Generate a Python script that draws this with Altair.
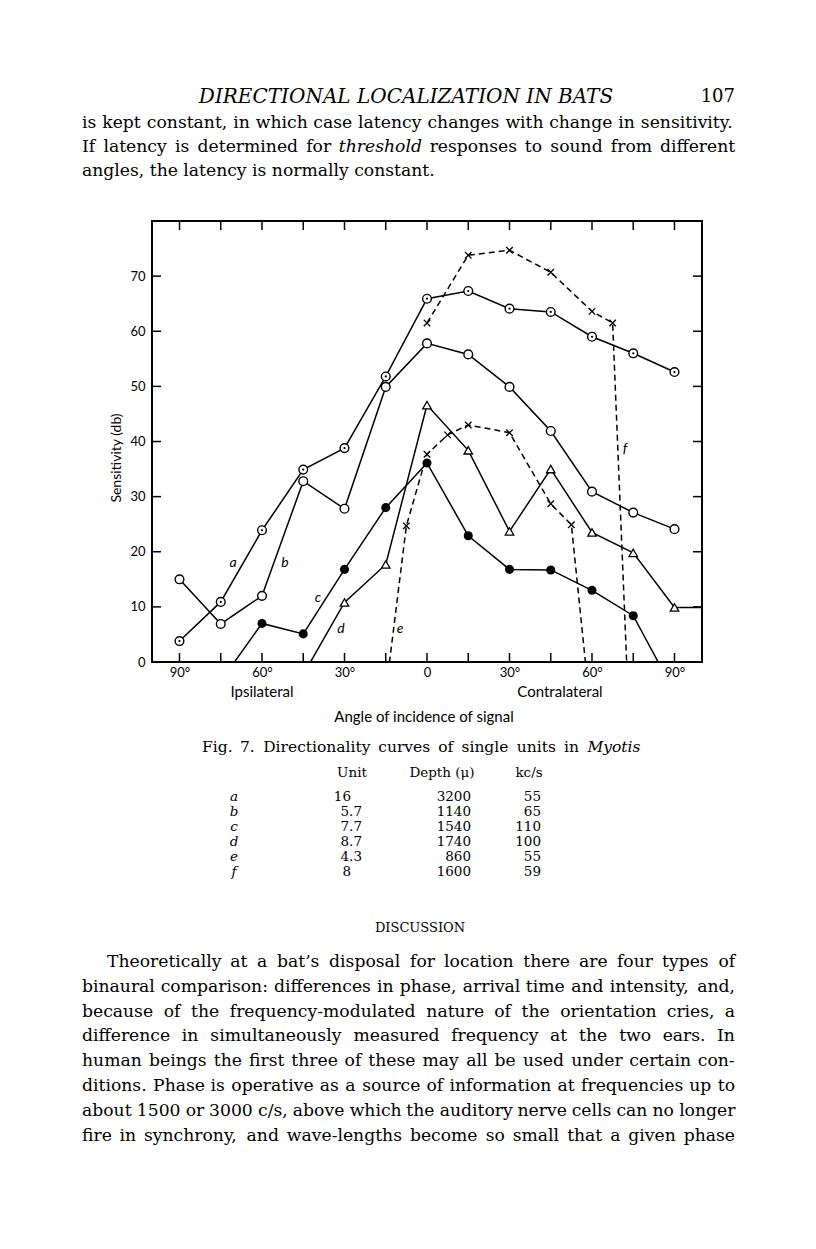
import altair as alt
import pandas as pd

# ---------------- data ----------------
ang_a = [-90, -75, -60, -45, -30, -15, 0, 15, 30, 45, 60, 75, 90]
db_a = [3.8, 10.9, 23.9, 34.9, 38.8, 51.8, 65.9, 67.3, 64.1, 63.5, 59.0, 56.0, 52.6]
ang_b = [-90, -75, -60, -45, -30, -15, 0, 15, 30, 45, 60, 75, 90]
db_b = [15.0, 6.9, 12.0, 32.8, 27.8, 49.9, 57.8, 55.8, 49.9, 41.9, 30.9, 27.1, 24.1]
ang_c = [-75, -60, -45, -30, -15, 0, 15, 30, 45, 60, 75, 90]
db_c = [-3.5, 7.0, 5.1, 16.8, 28.0, 36.1, 22.9, 16.8, 16.7, 13.0, 8.4, -5.5]
ang_d = [-45, -30, -15, 0, 15, 30, 45, 60, 75, 90, 100]
db_d = [-2.3, 10.8, 17.7, 46.6, 38.4, 23.7, 35.0, 23.5, 19.8, 9.9, 9.9]
ang_e = [-15, -7.5, 0, 7.5, 15, 30, 45, 52.5, 60]
db_e = [-5.5, 24.7, 37.7, 41.2, 43.0, 41.6, 28.7, 24.9, -11.7]
ang_f = [0, 15, 30, 45, 60, 67.5, 75]
db_f = [61.5, 73.8, 74.7, 70.7, 63.6, 61.5, -29.0]

units = ["a", "b", "c", "d", "e", "f"]
x_tick_values = [-90, -75, -60, -45, -30, -15, 0, 15, 30, 45, 60, 75, 90]
x_label_values = [-90, -60, -30, 0, 30, 60, 90]
y_tick_values = [10, 20, 30, 40, 50, 60, 70]
y_label_values = [0, 10, 20, 30, 40, 50, 60, 70]

tbl_unit = ["16", "5.7", "7.7", "8.7", "4.3", "8"]
tbl_depth = ["3200", "1140", "1540", "1740", "860", "1600"]
tbl_kcs = ["55", "65", "110", "100", "55", "59"]

header_title = "DIRECTIONAL LOCALIZATION IN BATS"
page_number = "107"
top_line_1 = "is kept constant, in which case latency changes with change in sensitivity."
top_line_2 = "If latency is determined for _threshold_ responses to sound from different"
top_line_3 = "angles, the latency is normally constant."
caption_line = "Fig. 7.  Directionality curves of single units in _Myotis_"
table_header = ["Unit", "Depth (\u03bc)", "kc/s"]
section_title = "DISCUSSION"
para_lines = [
    "Theoretically at a bat\u2019s disposal for location there are four types of",
    "binaural comparison: differences in phase, arrival time and intensity, and,",
    "because of the frequency-modulated nature of the orientation cries, a",
    "difference in simultaneously measured frequency at the two ears.  In",
    "human beings the first three of these may all be used under certain con-",
    "ditions.  Phase is operative as a source of information at frequencies up to",
    "about 1500 or 3000 c/s, above which the auditory nerve cells can no longer",
    "fire in synchrony, and wave-lengths become so small that a given phase",
]

# ---------------- layout ----------------
L, T, W, H = 152, 221, 550, 441  # plot area on the page


def ax(px):
    return (px - L) / W * 200 - 100


def ay(py):
    return (T + H - py) / H * 80


xs = alt.Scale(domain=[-100, 100], nice=False, zero=False)
ys = alt.Scale(domain=[0, 80], nice=False, zero=False)
xaxis = alt.Axis(values=x_label_values, labelExpr="datum.value == 0 ? '0' : abs(datum.value) + '\u00b0'",
                 ticks=False, domain=False, grid=False, title=None, labelFont="Lato",
                 labelFontSize=13, labelColor="black", labelPadding=4)
yaxis = alt.Axis(values=y_label_values, ticks=False, domain=False, grid=False, title=None,
                 labelFont="Lato", labelFontSize=13, labelColor="black", labelPadding=7)
X = alt.X("angle:Q", scale=xs, axis=xaxis)
Y = alt.Y("db:Q", scale=ys, axis=yaxis)

rows = []
for u, angs, vals in zip(units, [ang_a, ang_b, ang_c, ang_d, ang_e, ang_f],
                         [db_a, db_b, db_c, db_d, db_e, db_f]):
    for i, (a, v) in enumerate(zip(angs, vals)):
        rows.append({"unit": u, "angle": a, "db": v, "order": i})
df = pd.DataFrame(rows)
base = alt.Chart(df)

line_solid = base.transform_filter("indexof(['a','b','c','d'], datum.unit) >= 0").mark_line(
    clip=True, color="black", strokeWidth=1.5).encode(x=X, y=Y, detail="unit:N", order="order:Q")
line_dash = base.transform_filter("indexof(['e','f'], datum.unit) >= 0").mark_line(
    clip=True, color="black", strokeWidth=1.5, strokeDash=[6, 4]).encode(
    x=X, y=Y, detail="unit:N", order="order:Q")

pts = base.transform_filter("datum.angle <= 90")
open_circ = pts.transform_filter("datum.unit == 'a' || datum.unit == 'b'").mark_point(
    clip=True, shape="circle", filled=True, fill="white", stroke="black", strokeWidth=1.4,
    size=76, opacity=1).encode(x=X, y=Y)
dots = pts.transform_filter("datum.unit == 'a'").mark_point(
    clip=True, shape="circle", filled=True, color="black", size=5, opacity=1).encode(x=X, y=Y)
filled = pts.transform_filter("datum.unit == 'c'").mark_point(
    clip=True, shape="circle", filled=True, color="black", size=82, opacity=1).encode(x=X, y=Y)
tri = pts.transform_filter("datum.unit == 'd'").mark_point(
    clip=True, shape="triangle-up", filled=True, fill="white", stroke="black", strokeWidth=1.3,
    size=72, opacity=1).encode(x=X, y=Y)
cross = pts.transform_filter("datum.unit == 'e' || datum.unit == 'f'").mark_point(
    clip=True, shape="M-1,-1L1,1M-1,1L1,-1", filled=False, stroke="black", strokeWidth=1.3,
    size=42, opacity=1).encode(x=X, y=Y)

# inward ticks on all four sides
xt = alt.Chart(pd.DataFrame({"angle": x_tick_values}))
yt = alt.Chart(pd.DataFrame({"db": y_tick_values}))
tick_bottom = xt.mark_rule(color="black", strokeWidth=1.5).encode(x=X, y=alt.value(H), y2=alt.value(H - 9))
tick_top = xt.mark_rule(color="black", strokeWidth=1.5).encode(x=X, y=alt.value(0), y2=alt.value(9))
tick_left = yt.mark_rule(color="black", strokeWidth=1.5).encode(y=Y, x=alt.value(0), x2=alt.value(9))
tick_right = yt.mark_rule(color="black", strokeWidth=1.5).encode(y=Y, x=alt.value(W), x2=alt.value(W - 9))


def txt(items, **kw):
    d = pd.DataFrame({"label": [i[0] for i in items],
                      "angle": [ax(i[1]) for i in items],
                      "db": [ay(i[2]) for i in items]})
    opts = dict(baseline="middle", color="black")
    opts.update(kw)
    return alt.Chart(d).mark_text(**opts).encode(x=X, y=Y, text="label:N")


SANS = "Lato"
SERIF = "DejaVu Serif"

# approximate DejaVu Serif advance widths (units of 1/2048 em), for justification
CW = {" ": 651, "a": 1221, "b": 1314, "c": 1147, "d": 1314, "e": 1212, "f": 739, "g": 1314,
      "h": 1314, "i": 655, "j": 639, "k": 1245, "l": 655, "m": 1966, "n": 1314, "o": 1233,
      "p": 1314, "q": 1314, "r": 925, "s": 1044, "t": 823, "u": 1314, "v": 1167, "w": 1704,
      "x": 1167, "y": 1167, "z": 1073, ",": 651, ".": 651, ":": 690, "-": 739, "\u2019": 651,
      "/": 690, "I": 824, "T": 1290, "P": 1274, "F": 1290, "D": 1606, "M": 2026}


def word_width(w, size):
    return sum(CW.get(c, 1303) for c in w) / 2048 * size


def justify(line, y, x0, x1, size):
    words = line.split()
    widths = [word_width(w.strip("_"), size) for w in words]
    gap = (x1 - x0 - sum(widths)) / (len(words) - 1)
    gap = max(gap, 0.15 * size)
    out_r, out_i = [], []
    x = x0
    for w, wd in zip(words, widths):
        if w.startswith("_"):
            out_i.append((w.strip("_"), x, y))
        else:
            out_r.append((w, x, y))
        x += wd + gap
    return out_r, out_i


BODY = 17.2
reg, ital = [], []
for line, y, x0 in [(top_line_1, 123, 82), (top_line_2, 147, 82)]:
    r, i = justify(line, y, x0, 735, BODY)
    reg += r
    ital += i
for k, line in enumerate(para_lines):
    r, i = justify(line, 962 + 24.8 * k, 107 if k == 0 else 82, 735, BODY)
    reg += r
    ital += i

body_words = txt(reg, font=SERIF, fontSize=BODY, align="left")
body_ital = txt(ital, font=SERIF, fontSize=BODY, fontStyle="italic", align="left")
body_last = txt([(top_line_3, 82, 171)], font=SERIF, fontSize=BODY, align="left")

header = txt([(header_title, 406, 97)], font=SERIF, fontSize=20, fontStyle="italic", align="center")
pnum = txt([(page_number, 735, 97)], font=SERIF, fontSize=18, align="right")

# curve labels
curve_labels = txt([("a", 233, 563), ("b", 285, 563), ("c", 318, 598), ("d", 341, 629),
                    ("e", 400, 629), ("f", 625, 449)],
                   font=SANS, fontSize=14, fontStyle="italic", align="center")

ytitle = txt([("Sensitivity (db)", 117, 458)], font=SANS, fontSize=14, angle=270, align="center")
side_labels = txt([("Ipsilateral", 262, 692), ("Contralateral", 560, 692),
                   ("Angle of incidence of signal", 424, 717)], font=SANS, fontSize=15, align="center")

CAP = 15.5
cap_r, cap_i = justify(caption_line, 747, 202, 640, CAP)
cap = txt(cap_r, font=SERIF, fontSize=CAP, align="left")
cap_it = txt(cap_i, font=SERIF, fontSize=CAP, fontStyle="italic", align="left")
thead = txt([(table_header[0], 352, 773), (table_header[1], 442, 773), (table_header[2], 529, 773)],
            font=SERIF, fontSize=13.5, align="center")
row_y = [797 + 15 * i for i in range(6)]
tletters = txt([(u, 234, y) for u, y in zip(units, row_y)], font=SERIF, fontSize=13.5,
               fontStyle="italic", align="center")
tunits = txt([(v, 362 if "." in v else 351, y) for v, y in zip(tbl_unit, row_y)],
             font=SERIF, fontSize=13.5, align="right")
tdepth = txt([(v, 471, y) for v, y in zip(tbl_depth, row_y)], font=SERIF, fontSize=13.5, align="right")
tkcs = txt([(v, 541, y) for v, y in zip(tbl_kcs, row_y)], font=SERIF, fontSize=13.5, align="right")
disc = txt([(section_title, 420, 928)], font=SERIF, fontSize=13, align="center")

chart = alt.layer(
    tick_bottom, tick_top, tick_left, tick_right,
    line_solid, line_dash, open_circ, dots, filled, tri, cross,
    curve_labels, ytitle, side_labels,
    header, pnum, body_words, body_ital, body_last,
    cap, cap_it, thead, tletters, tunits, tdepth, tkcs, disc,
).properties(
    width=W, height=H,
    autosize=alt.AutoSizeParams(type="none"),
    padding={"left": L - 8, "top": T - 8, "right": 800 - (L - 8) - W, "bottom": 1225 - (T - 8) - H},
    background="white",
).configure_view(stroke="black", strokeWidth=2)

chart.save("out.html", embed_options={"renderer": "svg", "actions": False})
